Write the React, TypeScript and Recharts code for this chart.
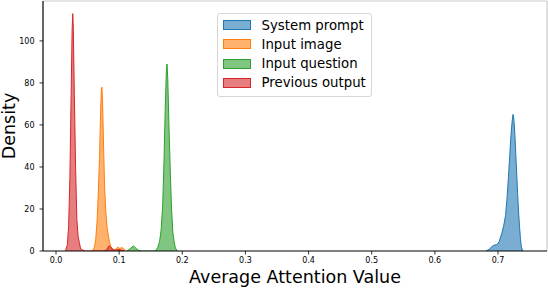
import React from 'react';
import { ComposedChart, Area, XAxis, YAxis, Legend, ReferenceLine, Label } from 'recharts';

const seriesNames = ['System prompt', 'Input image', 'Input question', 'Previous output'];
const seriesKeys = ['system', 'image', 'question', 'previous'];
const seriesColors = ['#1f77b4', '#ff7f0e', '#2ca02c', '#d62728'];

const xTicks = [0, 0.1, 0.2, 0.3, 0.4, 0.5, 0.6, 0.7];
const yTicks = [0, 20, 40, 60, 80, 100];

const systemX = [0.681, 0.686, 0.69, 0.694, 0.698, 0.702, 0.706, 0.709, 0.712, 0.7145, 0.7165, 0.7185, 0.7205, 0.7225, 0.7238, 0.725, 0.7265, 0.728, 0.7296, 0.731, 0.7325, 0.734, 0.7355, 0.737, 0.739];
const systemY = [0, 0.8, 2, 2.8, 3, 4.5, 8.4, 12, 17, 26, 35, 45, 55, 62, 65, 63, 57, 47, 37, 28, 19, 12, 6, 2, 0];

const imageX = [0.058, 0.061, 0.063, 0.065, 0.067, 0.069, 0.0705, 0.0718, 0.0728, 0.074, 0.0755, 0.077, 0.079, 0.081, 0.083, 0.085, 0.087, 0.089, 0.092, 0.095, 0.098, 0.101, 0.104, 0.107, 0.11];
const imageY = [0, 2, 6, 14, 28, 45, 65, 77, 78, 68, 48, 30, 18, 11, 7, 4, 2, 0.8, 0.5, 1, 1.8, 1.2, 1.6, 1.2, 0];

const questionX = [0.112, 0.117, 0.1225, 0.127, 0.131, 0.135, 0.157, 0.161, 0.164, 0.1665, 0.169, 0.171, 0.173, 0.1748, 0.1758, 0.177, 0.179, 0.181, 0.183, 0.185, 0.187, 0.189, 0.192];
const questionY = [0, 1, 2.4, 1.2, 0.3, 0, 0, 1.5, 4.5, 10, 22, 42, 68, 86, 89, 82, 58, 38, 20, 9, 4.5, 1.5, 0];

const previousX = [0.015, 0.018, 0.02, 0.022, 0.024, 0.0255, 0.0265, 0.0275, 0.029, 0.031, 0.033, 0.035, 0.037, 0.039, 0.042, 0.046, 0.075, 0.08, 0.084, 0.088, 0.092, 0.096, 0.1, 0.104, 0.108];
const previousY = [0, 3, 12, 35, 75, 105, 113, 105, 75, 40, 15, 7, 4, 1, 0.5, 0, 0, 0.5, 2.5, 1.5, 0.3, 0.5, 0.8, 0.3, 0];

const seriesX = [systemX, imageX, questionX, previousX];
const seriesY = [systemY, imageY, questionY, previousY];

const rows: Record<string, number>[] = [];
seriesKeys.forEach((key, s) => {
  seriesX[s].forEach((x, i) => {
    rows.push({ x, [key]: seriesY[s][i] });
  });
});
rows.sort((a, b) => a.x - b.x);

const X_MIN = -0.0206;
const X_MAX = 0.7776;
const Y_MAX = 119;

const FONT = 'DejaVu Sans, sans-serif';

const renderLegend = () => (
  <div
    style={{
      boxSizing: 'border-box',
      width: 155,
      height: 84,
      border: '1px solid #d6d6d6',
      borderRadius: 3,
      background: 'rgba(255,255,255,0.8)',
      padding: '1.5px 4px 3px 4.5px',
      fontFamily: FONT,
    }}
  >
    {seriesNames.map((name, i) => (
      <div key={name} style={{ display: 'flex', alignItems: 'center', height: 19.3 }}>
        <span
          style={{
            display: 'inline-block',
            boxSizing: 'border-box',
            width: 28,
            height: 10,
            background: seriesColors[i] + '99',
            border: `1px solid ${seriesColors[i]}`,
            marginRight: 11,
          }}
        />
        <span style={{ fontSize: 13.3, lineHeight: '19.3px', color: '#000', whiteSpace: 'nowrap' }}>{name}</span>
      </div>
    ))}
  </div>
);

const renderYLabel = (props: any) => {
  const vb = props.viewBox || { x: 0, y: 1, width: 43, height: 250 };
  const cx = vb.x + 9;
  const cy = vb.y + vb.height / 2;
  return (
    <text
      x={cx}
      y={cy}
      transform={`rotate(-90, ${cx}, ${cy})`}
      textAnchor="middle"
      dominantBaseline="central"
      fontSize={17.5}
      fontFamily={FONT}
      fill="#000"
    >
      Density
    </text>
  );
};

const renderXLabel = (props: any) => {
  const vb = props.viewBox || { x: 43, y: 251, width: 504, height: 37 };
  return (
    <text
      x={vb.x + vb.width / 2}
      y={vb.y + 32}
      textAnchor="middle"
      fontSize={17.5}
      fontFamily={FONT}
      fill="#000"
    >
      Average Attention Value
    </text>
  );
};

export default function App() {
  return (
    <div style={{ position: 'absolute', left: 0, top: 0, width: 548, height: 288, background: '#fff', fontFamily: FONT }}>
      <ComposedChart width={548} height={288} data={rows} margin={{ top: 1, right: 1, bottom: 0, left: 0 }}>
        <XAxis
          dataKey="x"
          type="number"
          domain={[X_MIN, X_MAX]}
          allowDataOverflow
          ticks={xTicks}
          tickFormatter={(v: number) => v.toFixed(1)}
          height={37}
          tickSize={3.5}
          tickMargin={2.5}
          tick={{ fontSize: 8, fill: '#000', fontFamily: FONT }}
          tickLine={{ stroke: '#000', strokeWidth: 0.8 }}
          axisLine={{ stroke: '#000', strokeWidth: 1.2 }}
        >
          <Label content={renderXLabel} />
        </XAxis>
        <YAxis
          type="number"
          domain={[0, Y_MAX]}
          allowDataOverflow
          ticks={yTicks}
          width={43}
          tickSize={3.5}
          tickMargin={5}
          tick={{ fontSize: 8, fill: '#000', fontFamily: FONT }}
          tickLine={{ stroke: '#000', strokeWidth: 0.8 }}
          axisLine={{ stroke: '#000', strokeWidth: 1.2 }}
        >
          <Label content={renderYLabel} />
        </YAxis>
        <ReferenceLine y={Y_MAX} stroke="#cccccc" strokeWidth={1.2} ifOverflow="visible" />
        <ReferenceLine x={X_MAX} stroke="#cccccc" strokeWidth={1.2} ifOverflow="visible" />
        {seriesKeys.map((key, i) => (
          <Area
            key={key}
            dataKey={key}
            name={seriesNames[i]}
            type="linear"
            stroke={seriesColors[i]}
            strokeWidth={1}
            fill={seriesColors[i]}
            fillOpacity={0.6}
            connectNulls
            dot={false}
            activeDot={false}
            isAnimationActive={false}
          />
        ))}
        <Legend
          layout="vertical"
          align="center"
          verticalAlign="middle"
          content={renderLegend}
          wrapperStyle={{ left: 217, top: 13, width: 155 }}
        />
      </ComposedChart>
    </div>
  );
}
